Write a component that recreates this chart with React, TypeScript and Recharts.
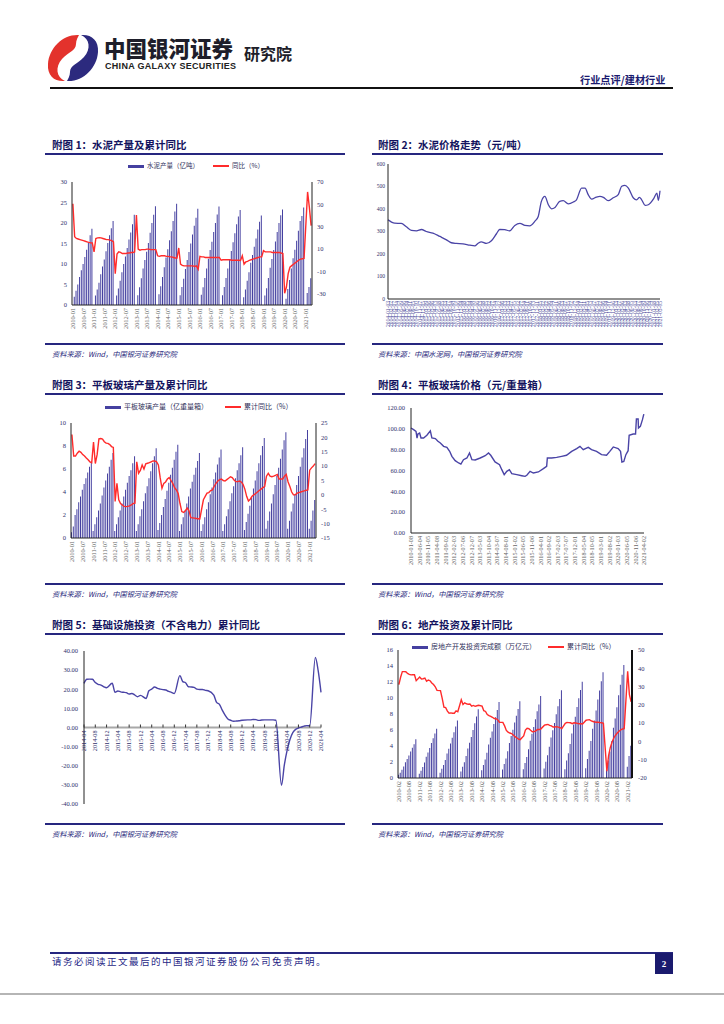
import React from "react";
import { ComposedChart, LineChart, Bar, Line, XAxis, YAxis, ReferenceLine } from "recharts";

// ---------------- shared categories ----------------
const MONTHS = [
  "2010-01","2010-02","2010-03","2010-04","2010-05","2010-06","2010-07","2010-08","2010-09","2010-10","2010-11","2010-12",
  "2011-01","2011-02","2011-03","2011-04","2011-05","2011-06","2011-07","2011-08","2011-09","2011-10","2011-11","2011-12",
  "2012-01","2012-02","2012-03","2012-04","2012-05","2012-06","2012-07","2012-08","2012-09","2012-10","2012-11","2012-12",
  "2013-01","2013-02","2013-03","2013-04","2013-05","2013-06","2013-07","2013-08","2013-09","2013-10","2013-11","2013-12",
  "2014-01","2014-02","2014-03","2014-04","2014-05","2014-06","2014-07","2014-08","2014-09","2014-10","2014-11","2014-12",
  "2015-01","2015-02","2015-03","2015-04","2015-05","2015-06","2015-07","2015-08","2015-09","2015-10","2015-11","2015-12",
  "2016-01","2016-02","2016-03","2016-04","2016-05","2016-06","2016-07","2016-08","2016-09","2016-10","2016-11","2016-12",
  "2017-01","2017-02","2017-03","2017-04","2017-05","2017-06","2017-07","2017-08","2017-09","2017-10","2017-11","2017-12",
  "2018-01","2018-02","2018-03","2018-04","2018-05","2018-06","2018-07","2018-08","2018-09","2018-10","2018-11","2018-12",
  "2019-01","2019-02","2019-03","2019-04","2019-05","2019-06","2019-07","2019-08","2019-09","2019-10","2019-11","2019-12",
  "2020-01","2020-02","2020-03","2020-04","2020-05","2020-06","2020-07","2020-08","2020-09","2020-10","2020-11","2020-12",
  "2021-01","2021-02","2021-03","2021-04",
];

// ---------------- chart 1: cement output ----------------
const CEMENT_OUTPUT = [
  null, 2.0, 3.5, 5.0, 6.8, 8.5, 10.0, 11.7, 13.5, 15.2, 17.0, 18.6,
  null, 2.3, 3.8, 5.4, 7.5, 9.4, 11.1, 13.1, 15.1, 17.0, 18.7, 20.5,
  null, 2.3, 4.0, 5.9, 8.0, 10.0, 11.8, 13.9, 16.0, 17.7, 19.7, 22.0,
  null, 2.4, 4.3, 6.5, 8.9, 11.0, 13.0, 15.1, 17.6, 20.0, 22.0, 24.1,
  null, 2.6, 4.6, 6.8, 9.2, 11.6, 13.6, 15.8, 18.0, 20.5, 22.8, 24.7,
  null, 2.4, 4.4, 6.4, 8.8, 11.0, 12.9, 15.0, 17.2, 19.3, 21.3, 23.5,
  null, 2.5, 4.3, 6.6, 8.9, 11.3, 13.4, 15.4, 17.8, 20.0, 22.1, 24.0,
  null, 2.4, 4.4, 6.6, 8.9, 11.2, 13.2, 15.3, 17.5, 19.7, 21.6, 23.2,
  null, 1.9, 3.8, 5.9, 8.0, 10.3, 12.2, 14.2, 16.2, 18.4, 20.3, 21.8,
  null, 2.3, 4.1, 6.6, 9.1, 11.2, 13.4, 15.5, 17.8, 20.0, 21.9, 23.3,
  null, 1.5, 3.9, 6.1, 8.9, 11.4, 13.5, 15.7, 18.1, 20.5, 21.7, 23.8,
  null, 2.9, 4.4, 6.5,
];
const CEMENT_YOY = [
  50.5, 21.0, 19.5, 19.0, 18.5, 18.0, 17.5, 17.0, 16.5, 16.0, 15.7, 15.5,
  7.5, 19.5, 20.0, 20.2, 20.0, 19.5, 19.0, 18.5, 18.5, 18.0, 17.5, 16.5,
  -12.0, 5.5, 7.5, 7.0, 6.0, 6.0, 6.0, 6.5, 6.5, 7.0, 7.0, 7.5,
  40.5, 10.0, 9.0, 9.5, 9.5, 9.5, 10.0, 10.0, 9.5, 9.5, 9.5, 9.5,
  4.0, 3.5, 4.0, 4.0, 4.0, 3.5, 3.5, 3.0, 3.0, 2.5, 2.0, 2.0,
  11.0, -3.5, -4.5, -5.0, -5.0, -5.0, -5.0, -5.0, -5.0, -5.5, -5.0, -8.0,
  3.5, 3.0, 3.0, 2.5, 2.5, 2.5, 2.5, 2.5, 2.5, 2.5, 2.5, 2.5,
  0.0, 0.5, 0.5, 0.5, 0.5, 0.5, 0.0, 0.0, 0.0, 0.0, 0.0, -0.2,
  4.0, -3.5, -1.5, -1.0, 0.0, 0.5, 1.0, 1.5, 2.0, 2.5, 3.0, 3.0,
  8.6, 7.5, 7.5, 7.5, 7.5, 7.0, 7.0, 7.0, 7.0, 7.0, 6.5, 6.1,
  -29.5, -23.9, -11.9, -6.2, -4.8, -3.5, -2.3, -1.1, 0.2, 1.1, 1.4, 1.6,
  null, 61.1, 47.3, 31.0,
];
const C1_LEFT_TICKS = [0, 5, 10, 15, 20, 25, 30];
const C1_RIGHT_TICKS = [-40, -30, -20, -10, 0, 10, 20, 30, 40, 50, 60, 70];

// ---------------- chart 2: cement price ----------------
const C2_X = [0,1.1,2.1,4.2,5.8,7.4,9.0,10.6,12.1,14.2,16.4,18.5,20.0,21.6,23.7,25.9,27.4,28.5,29.5,31.1,32.7,34.3,35.3,36.9,38.5,40.1,41.7,43.3,44.8,46.4,47.5,48.5,49.6,50.7,51.7,52.8,54.3,55.4,57.0,58.6,59.6,61.2,62.3,63.3,64.4,65.9,67.0,68.1,69.6,71.2,72.8,73.9,74.9,76.0,77.6,78.6,79.5,80.2,81.3,82.3,84.0,85.0,85.5,86.0];
const C2_PRICE = [352,342,337,336,321,305,303,309,300,293,278,263,250,247,245,239,236,248,254,247,259,290,309,308,303,327,336,327,325,345,367,434,456,419,401,407,434,437,423,431,441,493,493,464,444,453,456,452,437,450,464,501,505,493,449,441,452,441,416,419,446,471,438,481];
const C2_Y_TICKS = [0, 100, 200, 300, 400, 500, 600];
const C2_X_LABELS = [
  "2014-01-03","2014-02-07","2014-03-07","2014-04-04","2014-05-09","2014-06-06","2014-07-04","2014-08-01","2014-09-05","2014-10-10","2014-11-07","2014-12-05",
  "2015-01-09","2015-02-06","2015-03-06","2015-04-03","2015-05-08","2015-06-05","2015-07-03","2015-08-07","2015-09-04","2015-10-09","2015-11-06","2015-12-04",
  "2016-01-08","2016-02-05","2016-03-04","2016-04-08","2016-05-06","2016-06-03","2016-07-08","2016-08-05","2016-09-02","2016-10-07","2016-11-04","2016-12-02",
  "2017-01-06","2017-02-03","2017-03-03","2017-04-07","2017-05-05","2017-06-02","2017-07-07","2017-08-04","2017-09-01","2017-10-06","2017-11-03","2017-12-01",
  "2018-01-05","2018-02-02","2018-03-02","2018-04-06","2018-05-04","2018-06-01","2018-07-06","2018-08-03","2018-09-07","2018-10-05","2018-11-02","2018-12-07",
  "2019-01-04","2019-02-01","2019-03-01","2019-04-05","2019-05-03","2019-06-07","2019-07-05","2019-08-02","2019-09-06","2019-10-04","2019-11-01","2019-12-06",
  "2020-01-03","2020-02-07","2020-03-06","2020-04-03","2020-05-08","2020-06-05","2020-07-03","2020-08-07","2020-09-04","2020-10-09","2020-11-06","2020-12-04",
  "2021-01-08","2021-02-05","2021-03-05",
];

// ---------------- chart 3: flat glass output ----------------
const GLASS_OUTPUT = [
  0.5, 1.0, 2.0, 2.5, 3.1, 3.6, 4.2, 4.7, 5.2, 5.7, 6.2, 6.6,
  0.6, 1.2, 1.8, 2.4, 3.0, 3.7, 4.4, 5.0, 5.6, 6.2, 6.8, 7.4,
  0.6, 1.2, 1.8, 2.4, 3.0, 3.6, 4.2, 4.8, 5.4, 5.9, 6.5, 7.1,
  0.6, 1.2, 1.9, 2.5, 3.2, 3.9, 4.5, 5.2, 5.8, 6.5, 7.1, 7.8,
  0.7, 1.3, 2.0, 2.7, 3.4, 4.1, 4.8, 5.5, 6.1, 6.8, 7.5, 8.1,
  0.6, 1.2, 1.8, 2.4, 3.0, 3.6, 4.3, 4.9, 5.5, 6.1, 6.7, 7.4,
  0.6, 1.2, 1.8, 2.5, 3.1, 3.8, 4.4, 5.1, 5.7, 6.4, 7.0, 7.7,
  0.6, 1.2, 1.9, 2.5, 3.2, 3.9, 4.5, 5.2, 5.9, 6.5, 7.2, 7.9,
  0.7, 1.4, 2.1, 2.8, 3.5, 4.3, 5.0, 5.8, 6.5, 7.2, 8.0, 8.7,
  0.8, 1.5, 2.3, 3.0, 3.8, 4.6, 5.4, 6.1, 6.9, 7.7, 8.5, 9.2,
  0.8, 1.5, 2.3, 3.0, 3.8, 4.6, 5.4, 6.2, 7.0, 7.8, 8.6, 9.4,
  0.8, 1.5, 2.4, 3.3,
];
const GLASS_YOY = [
  21.0, 13.5, 13.5, 14.5, 15.2, 14.8, 14.0, 13.5, 12.8, 12.2, 11.5, 11.2,
  18.4, 10.9, 14.0, 19.5, 19.6, 19.4, 18.5, 18.0, 17.9, 17.5, 16.8, 16.5,
  -2.3, 4.0, -1.7, -3.0, -3.5, -4.0, -4.1, -4.0, -3.8, -3.5, -3.0, -2.9,
  11.5, 7.5, 8.5, 10.4, 9.0, 10.8, 11.0, 11.2, 11.5, 11.8, 11.8, 11.5,
  10.4, 6.0, 2.3, 4.0, 4.5, 5.5, 6.0, 5.0, 4.0, 2.5, 1.7, 0.5,
  -3.0, -5.8, -6.1, -5.5, -4.6, -5.5, -7.9, -8.0, -8.1, -8.2, -8.3, -8.4,
  -5.0, -1.7, -0.5, 0.6, 0.8, 1.5, 1.7, 3.0, 4.0, 4.8, 5.3, 5.5,
  5.0, 4.8, 5.3, 5.8, 6.3, 6.0, 5.2, 4.6, 4.6, 4.8, 4.5, 3.7,
  2.0, -0.5, -2.1, -1.5, -0.5, 0.0, 0.5, 1.0, 1.5, 2.0, 2.5, 2.9,
  6.5, 7.5, 6.5, 6.3, 6.5, 6.8, 7.1, 5.5, 5.5, 5.5, 6.5, 7.1,
  4.5, 2.9, 1.0, 0.0, 0.0, 0.6, 0.8, 1.0, 1.2, 1.4, 1.6, 1.7,
  8.6, 9.4, 10.0, 10.9,
];
const C3_LEFT_TICKS = [0, 1, 2, 3, 4, 5, 6, 7, 8, 9, 10];
const C3_RIGHT_TICKS = [-15, -10, -5, 0, 5, 10, 15, 20, 25];

// ---------------- chart 4: flat glass price ----------------
const C4_X = [0,1.5,2.9,3.5,4.0,5.0,5.8,7.3,9.2,11.2,12.1,14.1,15.6,17.0,18.9,20.8,22.4,23.7,25.6,27.6,28.9,30.4,32.4,33.9,35.3,37.2,40.1,43.0,44.9,46.2,48.7,51.3,52.6,54.0,55.5,57.0,58.4,61.3,64.2,66.1,67.1,69.0,70.9,73.8,76.7,78.6,79.0,81.5,84.4,87.3,90.1,93.1,96.0,97.9,99.8,102.7,104.6,107.5,110.4,113.3,115.2,117.2,120.0,121.4,122.2,123.3,124.5,125.8,126.4,128.7,130.1,130.6,131.6,131.8,132.9,134.1,134.9];
const C4_PRICE = [100.8,99.2,97.6,91.0,95.0,96.0,91.2,91.2,93.8,98.0,91.2,90.6,88.0,86.4,83.2,82.2,78.4,73.6,69.4,67.2,66.2,70.4,72.0,76.8,70.4,70.1,72.0,74.2,76.8,74.6,68.2,65.6,60.8,56.0,59.2,60.8,57.0,56.0,55.0,54.4,55.4,59.2,57.6,58.6,61.8,64.0,72.0,72.0,72.6,73.6,74.6,78.4,81.0,83.2,80.0,82.2,80.0,78.4,75.2,74.6,78.4,82.6,81.0,78.4,68.2,68.8,75.2,79.0,93.8,95.0,95.0,109.4,109.4,100.8,102.4,108.8,114.2];
const C4_Y_TICKS = [0, 20, 40, 60, 80, 100, 120];
const C4_X_LABELS = ["2010-01-08","2010-06-04","2010-11-05","2011-04-08","2011-09-02","2012-02-03","2012-07-06","2012-12-07","2013-05-03","2013-10-04","2014-03-07","2014-08-01","2015-01-02","2015-06-05","2015-11-06","2016-04-01","2016-09-02","2017-02-03","2017-07-07","2017-12-01","2018-05-04","2018-10-05","2019-03-01","2019-08-02","2020-01-03","2020-06-05","2020-11-06","2021-04-02"];
const C4_LABEL_STEP = 5;

// ---------------- chart 5: infrastructure investment ----------------
const C5_MONTH = [0,1,2,3,4,5,6,7,8,10,11,12,13,14,15,16,17,18,19,20,22,23,24,25,26,27,28,29,30,31,32,34,35,36,37,38,39,40,41,42,43,44,46,47,48,49,50,51,52,53,54,55,56,58,59,60,61,62,63,64,65,66,67,68,70,71,72,73,74,75,76,77,78,79,80,82,83,84];
const C5_YOY = [23.1,25.2,25.3,25.2,23.5,22.6,22.2,21.3,20.8,23.1,18.4,19.1,18.6,18.4,18.2,17.5,17.8,17.0,16.1,16.8,15.2,19.2,20.1,21.2,20.5,20.1,19.8,19.6,18.9,18.4,17.8,27.1,24.0,23.4,21.3,21.2,21.0,20.1,19.9,19.9,19.4,19.2,16.9,13.1,12.1,9.1,6.5,4.5,3.8,3.3,3.4,3.5,3.8,4.0,4.0,4.2,4.1,3.7,3.9,4.0,4.0,4.0,4.0,3.8,-30.2,-19.7,-11.8,-6.3,-2.7,-1.0,-0.3,0.2,0.7,1.0,0.9,36.6,29.7,18.4];
const C5_Y_TICKS = [-40, -30, -20, -10, 0, 10, 20, 30, 40];
const C5_X_LABELS = ["2014-04","2014-08","2014-12","2015-04","2015-08","2015-12","2016-04","2016-08","2016-12","2017-04","2017-08","2017-12","2018-04","2018-08","2018-12","2019-04","2019-08","2019-12","2020-04","2020-08","2020-12","2021-04"];
const C5_LABEL_STEP = 4;

// ---------------- chart 6: real estate investment ----------------
const RE_INVEST = [
  0.41, 0.66, 1.03, 1.45, 1.96, 2.38, 2.82, 3.30, 3.77, 4.23, 4.83,
  null, 0.52, 0.92, 1.38, 1.93, 2.66, 3.18, 3.74, 4.36, 4.96, 5.55, 6.17,
  null, 0.66, 1.17, 1.62, 2.26, 3.06, 3.67, 4.31, 5.02, 5.72, 6.45, 7.18,
  null, 0.81, 1.40, 1.97, 2.76, 3.68, 4.42, 5.14, 6.01, 6.84, 7.70, 8.60,
  null, 0.97, 1.63, 2.30, 3.17, 4.20, 5.02, 5.82, 6.76, 7.60, 8.49, 9.50,
  null, 1.07, 1.76, 2.43, 3.34, 4.39, 5.24, 6.02, 6.94, 7.79, 8.63, 9.60,
  null, 1.10, 1.86, 2.61, 3.58, 4.66, 5.52, 6.36, 7.35, 8.33, 9.19, 10.26,
  null, 1.20, 2.03, 2.85, 3.90, 5.06, 5.96, 6.86, 7.96, 8.97, 9.88, 10.98,
  null, 1.09, 2.19, 3.08, 4.26, 5.55, 6.69, 7.67, 8.87, 9.96, 11.01, 12.03,
  null, 1.21, 2.38, 3.42, 4.64, 6.16, 7.19, 8.43, 9.80, 10.93, 12.08, 13.22,
  null, 1.01, 2.20, 3.32, 4.59, 6.28, 7.45, 8.85, 10.35, 11.66, 12.91, 14.14,
  null, 1.40, 2.76, 4.02,
];
const RE_YOY = [
  31.1, 35.1, 38.2, 38.2, 38.1, 37.2, 36.7, 36.4, 36.5, 36.5, 33.2,
  null, 35.2, 34.1, 34.3, 34.6, 32.9, 33.6, 33.2, 32.0, 31.1, 29.9, 27.9,
  null, 27.8, 23.5, 18.7, 18.5, 16.6, 15.4, 15.6, 15.4, 15.4, 16.7, 16.2,
  null, 22.8, 20.2, 21.1, 20.6, 20.3, 20.5, 19.3, 19.7, 19.2, 19.5, 19.8,
  null, 19.3, 16.8, 16.4, 14.7, 14.1, 13.7, 13.2, 12.5, 12.4, 11.9, 10.5,
  null, 10.4, 8.5, 6.0, 5.1, 4.6, 4.3, 3.5, 2.6, 2.0, 1.3, 1.0,
  null, 3.0, 6.2, 7.2, 7.0, 6.1, 5.3, 5.4, 5.8, 6.6, 6.5, 6.9,
  null, 8.9, 9.1, 9.3, 8.8, 8.5, 7.9, 7.9, 8.1, 7.8, 7.5, 7.0,
  null, 9.9, 10.4, 10.3, 10.2, 9.7, 10.2, 10.1, 9.9, 9.7, 9.7, 9.5,
  null, 11.6, 11.8, 11.9, 11.2, 10.9, 10.6, 10.5, 10.5, 10.3, 10.2, 9.9,
  null, -16.3, -7.7, -3.3, -0.3, 1.9, 3.4, 4.6, 5.6, 6.3, 6.8, 7.0,
  null, 38.3, 25.6, 21.6,
];
const C6_LEFT_TICKS = [0, 2, 4, 6, 8, 10, 12, 14, 16];
const C6_RIGHT_TICKS = [-20, -10, 0, 10, 20, 30, 40, 50];

// ---------------- tables ----------------
const chart1Rows = MONTHS.map((m, i) => ({ m, out: CEMENT_OUTPUT[i], yoy: CEMENT_YOY[i] }));
const chart2Rows = C2_X.map((x, i) => ({ x, v: C2_PRICE[i] }));
const chart3Rows = MONTHS.map((m, i) => ({ m, out: GLASS_OUTPUT[i], yoy: GLASS_YOY[i] }));
const chart4Rows = C4_X.map((x, i) => ({ x, v: C4_PRICE[i] }));
const chart5Rows = C5_MONTH.map((x, i) => ({ x, v: C5_YOY[i] }));
const chart6Rows = MONTHS.slice(1).map((m, i) => ({ m, out: RE_INVEST[i], yoy: RE_YOY[i] }));

// ---------------- styles ----------------
const CJK = '"Noto Sans CJK SC", "Noto Sans", sans-serif';
const NUM = '"Liberation Serif", "DejaVu Serif", serif';
const NAVY = "#26267f";
const TICK = "#2f2f6c";
const AXIS = "#222";
const BAR = "#4540a0";
const RED = "#ff2b2b";
const BLUE = "#4a44a6";

const yTick = (fs: number) => ({ fontSize: fs, fill: TICK, fontFamily: NUM });

const RotTick = (p: any) => {
  const { x, y, payload, fs = 6.3, fill = TICK, fmt } = p;
  const label = fmt ? fmt(payload.value) : payload.value;
  return (
    <text x={x} y={y} transform={`rotate(-90, ${x}, ${y})`} textAnchor="end" dy="0.35em"
      fontSize={fs} fill={fill} fontFamily={NUM}>{label}</text>
  );
};

const Abs = ({ x, y, w, h, style, children }: any) => (
  <div style={{ position: "absolute", left: x, top: y, width: w, height: h, ...style }}>{children}</div>
);

const Txt = ({ x, y, size, color = "#222", weight = 400, style, children }: any) => (
  <div style={{ position: "absolute", left: x, top: y, fontSize: size, color, fontWeight: weight, lineHeight: 1,
    whiteSpace: "nowrap", fontFamily: CJK, ...style }}>{children}</div>
);

const Heading = ({ x, y, children }: any) => (
  <Txt x={x} y={y} size={10.5} color="#13135e" weight={700}>{children}</Txt>
);
const Rule = ({ x, y, w }: any) => <Abs x={x} y={y} w={w} h={2} style={{ background: NAVY }} />;
const Source = ({ x, y, children }: any) => (
  <Txt x={x} y={y} size={7.2} color="#25257a" style={{ fontStyle: "italic" }}>{children}</Txt>
);

const LegendItem = ({ x, y, kind, label, size = 6.5 }: any) => (
  <>
    {kind === "bar"
      ? <Abs x={x} y={y - 1.5} w={16} h={3} style={{ background: BAR }} />
      : <Abs x={x} y={y - 1} w={16} h={2} style={{ background: RED }} />}
    <Txt x={x + 19} y={y - size / 2 - 0.5} size={size} color="#30305a">{label}</Txt>
  </>
);

// ---------------- charts ----------------
function Chart1() {
  return (
    <ComposedChart width={300} height={185} data={chart1Rows} margin={{ top: 24, right: 8, bottom: 4, left: 12 }}>
      <XAxis dataKey="m" interval={5} height={34} tickSize={2} tickMargin={1} tickLine={false}
        axisLine={{ stroke: AXIS }} tick={(p: any) => <RotTick {...p} />} />
      <YAxis yAxisId="l" domain={[0, 30]} ticks={C1_LEFT_TICKS} width={20} tickLine={false} tickSize={3} tickMargin={2}
        axisLine={{ stroke: AXIS }} tick={yTick(6.5)} />
      <YAxis yAxisId="r" orientation="right" domain={[-40, 70]} ticks={C1_RIGHT_TICKS} width={20} tickLine={false}
        tickSize={3} tickMargin={2} axisLine={{ stroke: AXIS }} tick={yTick(6.5)} />
      <Bar yAxisId="l" dataKey="out" fill={BAR} barSize={1} isAnimationActive={false} />
      <Line yAxisId="r" dataKey="yoy" stroke={RED} strokeWidth={1.4} dot={false} connectNulls type="linear" isAnimationActive={false} />
    </ComposedChart>
  );
}

function Chart2() {
  return (
    <LineChart width={295} height={185} data={chart2Rows} margin={{ top: 6, right: 5, bottom: 2, left: 4 }}>
      <XAxis dataKey="x" type="number" domain={[0, C2_X_LABELS.length - 1]} ticks={C2_X_LABELS.map((_, i) => i)}
        interval={0} height={42} tickSize={1} tickMargin={1} tickLine={false} axisLine={{ stroke: AXIS }}
        tick={(p: any) => <RotTick {...p} fs={5.6} fill="#5050a0" fmt={(v: number) => C2_X_LABELS[Math.round(v)]} />} />
      <YAxis domain={[0, 600]} ticks={C2_Y_TICKS} width={14} tickLine={false} tickSize={2} tickMargin={1}
        axisLine={{ stroke: AXIS }} tick={yTick(5.5)} />
      <Line dataKey="v" stroke={BLUE} strokeWidth={1.3} dot={false} type="monotone" isAnimationActive={false} />
    </LineChart>
  );
}

function Chart3() {
  return (
    <ComposedChart width={300} height={185} data={chart3Rows} margin={{ top: 25, right: 4, bottom: 4, left: 11 }}>
      <XAxis dataKey="m" interval={5} height={41} tickSize={2} tickMargin={1} tickLine={false}
        axisLine={{ stroke: AXIS }} tick={(p: any) => <RotTick {...p} />} />
      <YAxis yAxisId="l" domain={[0, 10]} ticks={C3_LEFT_TICKS} width={20} tickLine={false} tickSize={3} tickMargin={2}
        axisLine={{ stroke: AXIS }} tick={yTick(6.5)} />
      <YAxis yAxisId="r" orientation="right" domain={[-15, 25]} ticks={C3_RIGHT_TICKS} width={20} tickLine={false}
        tickSize={3} tickMargin={2} axisLine={{ stroke: AXIS }} tick={yTick(6.5)} />
      <Bar yAxisId="l" dataKey="out" fill={BAR} barSize={1} isAnimationActive={false} />
      <Line yAxisId="r" dataKey="yoy" stroke={RED} strokeWidth={1.4} dot={false} type="linear" isAnimationActive={false} />
    </ComposedChart>
  );
}

function Chart4() {
  return (
    <LineChart width={295} height={185} data={chart4Rows} margin={{ top: 10, right: 21, bottom: 4, left: 5 }}>
      <XAxis dataKey="x" type="number" domain={[0, (C4_X_LABELS.length - 1) * C4_LABEL_STEP]}
        ticks={C4_X_LABELS.map((_, i) => i * C4_LABEL_STEP)} interval={0} height={46} tickSize={2} tickMargin={1}
        tickLine={false} axisLine={{ stroke: AXIS }}
        tick={(p: any) => <RotTick {...p} fs={6.2} fmt={(v: number) => C4_X_LABELS[Math.round(v / C4_LABEL_STEP)]} />} />
      <YAxis domain={[0, 120]} ticks={C4_Y_TICKS} width={36} tickLine={false} tickSize={3} tickMargin={3}
        axisLine={{ stroke: AXIS }} tick={yTick(6.5)} tickFormatter={(v: number) => v.toFixed(2)} />
      <Line dataKey="v" stroke={BLUE} strokeWidth={1.4} dot={false} type="linear" isAnimationActive={false} />
    </LineChart>
  );
}

const C5_H = 185;
const C5_MARGIN = { top: 13, right: 19, bottom: 4, left: 8 };
const C5_XAXIS_H = 15;
const C5_PLOT_H = C5_H - C5_MARGIN.top - C5_MARGIN.bottom - C5_XAXIS_H;

const ZeroTick = (p: any) => {
  const { x, y, payload } = p;
  const zy = y - C5_PLOT_H / 2;
  const label = C5_X_LABELS[Math.round(payload.value / C5_LABEL_STEP)];
  return (
    <g>
      <line x1={x} x2={x} y1={zy - 3} y2={zy} stroke="#333" strokeWidth={1} />
      <text x={x} y={zy + 3} transform={`rotate(-90, ${x}, ${zy + 3})`} textAnchor="end" dy="0.35em"
        fontSize={6.2} fill={TICK} fontFamily={NUM}>{label}</text>
    </g>
  );
};

function Chart5() {
  return (
    <LineChart width={300} height={C5_H} data={chart5Rows} margin={C5_MARGIN}>
      <XAxis dataKey="x" type="number" domain={[0, (C5_X_LABELS.length - 1) * C5_LABEL_STEP]}
        ticks={C5_X_LABELS.map((_, i) => i * C5_LABEL_STEP)} interval={0} height={C5_XAXIS_H} tickSize={0} tickMargin={0}
        tickLine={false} axisLine={false} tick={(p: any) => <ZeroTick {...p} />} />
      <YAxis domain={[-40, 40]} ticks={C5_Y_TICKS} width={36} tickLine={false} tickSize={3} tickMargin={3}
        axisLine={{ stroke: AXIS }} tick={yTick(6.5)} tickFormatter={(v: number) => v.toFixed(2)} />
      <ReferenceLine y={0} stroke="#a8a8a8" strokeWidth={2} />
      <Line dataKey="v" stroke={BLUE} strokeWidth={1.4} dot={false} type="monotone" isAnimationActive={false} />
    </LineChart>
  );
}

function Chart6() {
  return (
    <ComposedChart width={295} height={185} data={chart6Rows} margin={{ top: 12, right: 13, bottom: 4, left: 8 }}>
      <XAxis dataKey="m" interval={5} height={41} tickSize={2} tickMargin={1} tickLine={false}
        axisLine={{ stroke: AXIS }} tick={(p: any) => <RotTick {...p} />} />
      <YAxis yAxisId="l" domain={[0, 16]} ticks={C6_LEFT_TICKS} width={20} tickLine={false} tickSize={3} tickMargin={2}
        axisLine={{ stroke: AXIS }} tick={yTick(6.5)} />
      <YAxis yAxisId="r" orientation="right" domain={[-20, 50]} ticks={C6_RIGHT_TICKS} width={20} tickLine={false}
        tickSize={3} tickMargin={3} axisLine={{ stroke: "#111", strokeWidth: 2 }} tick={yTick(6.5)} />
      <Bar yAxisId="l" dataKey="out" fill={BAR} barSize={1} isAnimationActive={false} />
      <Line yAxisId="r" dataKey="yoy" stroke={RED} strokeWidth={1.4} dot={false} connectNulls type="linear" isAnimationActive={false} />
    </ComposedChart>
  );
}

// ---------------- logo ----------------
const Logo = () => (
  <svg width={56} height={52} viewBox="0 0 56 52" style={{ position: "absolute", left: 45, top: 32 }}>
    <path d="M34 3 C18 2 4 16 3 32 C2 44 10 50 20 49 C11 45 10 35 17 27 C23 20 31 19 31 12 C31 8 33 5 34 3 Z" fill="#e3322c" />
    <path d="M22 49 C38 50 52 36 53 20 C54 8 46 2 36 3 C45 7 46 17 39 25 C33 32 25 33 25 40 C25 44 23 47 22 49 Z" fill="#2c2a7e" />
  </svg>
);

export default function App() {
  return (
    <div style={{ position: "absolute", left: 0, top: 0, width: 724, height: 1024, background: "#fff", overflow: "hidden", fontFamily: CJK }}>
      {/* header */}
      <Logo />
      <Txt x={104} y={37} size={21.5} weight={900} color="#1e1e2a">中国银河证券</Txt>
      <Txt x={105} y={62} size={9} weight={700} color="#222" style={{ fontFamily: '"Liberation Sans", Arial, sans-serif', letterSpacing: 0.3 }}>CHINA GALAXY SECURITIES</Txt>
      <Txt x={244} y={45} size={16} weight={700} color="#1e1e2a">研究院</Txt>
      <Txt x={580} y={75} size={10.2} weight={700} color="#1a1a70">行业点评/建材行业</Txt>
      <Abs x={50} y={87} w={623} h={2} style={{ background: "#111" }} />

      {/* row 1 */}
      <Heading x={52} y={140}>附图 1：水泥产量及累计同比</Heading>
      <Rule x={45} y={153} w={300} />
      <LegendItem x={128} y={166} kind="bar" label="水泥产量（亿吨）" />
      <LegendItem x={213} y={166} kind="line" label="同比（%）" />
      <Abs x={40} y={158} w={300} h={185}><Chart1 /></Abs>
      <Rule x={45} y={343} w={300} />
      <Source x={52} y={351}>资料来源：Wind，中国银河证券研究院</Source>

      <Heading x={378} y={140}>附图 2：水泥价格走势（元/吨）</Heading>
      <Rule x={372} y={153} w={291} />
      <Abs x={370} y={158} w={295} h={185}><Chart2 /></Abs>
      <Rule x={372} y={343} w={291} />
      <Source x={378} y={351}>资料来源：中国水泥网，中国银河证券研究院</Source>

      {/* row 2 */}
      <Heading x={52} y={380}>附图 3：平板玻璃产量及累计同比</Heading>
      <Rule x={45} y={393} w={300} />
      <LegendItem x={105} y={407} kind="bar" label="平板玻璃产量（亿重量箱）" size={7} />
      <LegendItem x={225} y={407} kind="line" label="累计同比（%）" size={7} />
      <Abs x={40} y={398} w={300} h={185}><Chart3 /></Abs>
      <Rule x={45} y={583} w={300} />
      <Source x={52} y={591}>资料来源：Wind，中国银河证券研究院</Source>

      <Heading x={378} y={380}>附图 4：平板玻璃价格（元/重量箱）</Heading>
      <Rule x={372} y={393} w={291} />
      <Abs x={370} y={398} w={295} h={185}><Chart4 /></Abs>
      <Rule x={372} y={583} w={291} />
      <Source x={378} y={591}>资料来源：Wind，中国银河证券研究院</Source>

      {/* row 3 */}
      <Heading x={52} y={620}>附图 5：基础设施投资（不含电力）累计同比</Heading>
      <Rule x={45} y={633} w={300} />
      <Abs x={40} y={638} w={300} h={185}><Chart5 /></Abs>
      <Rule x={45} y={823} w={300} />
      <Source x={52} y={831}>资料来源：Wind，中国银河证券研究院</Source>

      <Heading x={378} y={620}>附图 6：地产投资及累计同比</Heading>
      <Rule x={372} y={633} w={291} />
      <Abs x={370} y={638} w={295} h={185}><Chart6 /></Abs>
      <LegendItem x={412} y={647} kind="bar" label="房地产开发投资完成额（万亿元）" size={7} />
      <LegendItem x={548} y={647} kind="line" label="累计同比（%）" size={7} />
      <Rule x={372} y={823} w={291} />
      <Source x={378} y={831}>资料来源：Wind，中国银河证券研究院</Source>

      {/* footer */}
      <Abs x={50} y={952} w={623} h={2} style={{ background: NAVY }} />
      <Txt x={52} y={957} size={9.5} color="#1f1f86" style={{ letterSpacing: 1.5 }}>请务必阅读正文最后的中国银河证券股份公司免责声明。</Txt>
      <Abs x={655} y={953} w={18} h={21} style={{ background: "#1a1a6e", color: "#fff", fontSize: 9, fontWeight: 700,
        display: "flex", alignItems: "center", justifyContent: "center", fontFamily: NUM }}>2</Abs>
      <Abs x={0} y={993} w={724} h={2} style={{ background: "#b5b5b5" }} />
    </div>
  );
}
